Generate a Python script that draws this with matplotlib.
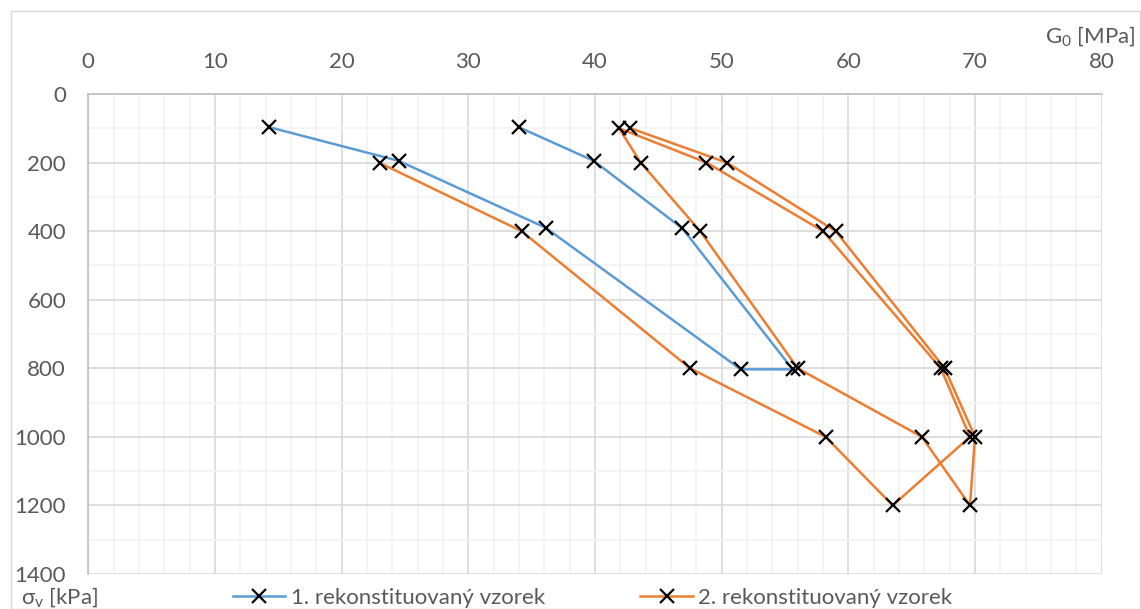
import matplotlib
matplotlib.use("Agg")
import matplotlib.pyplot as plt
from matplotlib.lines import Line2D
from matplotlib.patches import Rectangle
from matplotlib.ticker import MultipleLocator

plt.rcParams['font.family'] = ['Lato', 'DejaVu Sans']
plt.rcParams['mathtext.fontset'] = 'custom'
plt.rcParams['mathtext.rm'] = 'Lato'
plt.rcParams['mathtext.it'] = 'Lato:italic'

# Data: G0 [MPa] vs sigma_v [kPa]
blue_label = "1. rekonstituovaný vzorek"
blue_g0 = [14.3, 24.5, 36.1, 51.5, 55.6, 46.9, 39.9, 34.0]
blue_sv = [97, 195, 390, 803, 803, 392, 195, 97]

orange_label = "2. rekonstituovaný vzorek"
orange_g0 = [23.0, 34.2, 47.5, 58.2, 63.5, 69.6, 67.3, 58.0, 48.8, 41.9,
             43.6, 48.3, 56.0, 65.8, 69.6, 70.0, 67.6, 59.0, 50.4, 42.8]
orange_sv = [201, 400, 800, 1000, 1200, 1000, 800, 400, 200, 100,
             200, 400, 800, 1000, 1200, 1000, 800, 400, 200, 100]

x_label = r"G$_\mathrm{0}$ [MPa]"
y_label = r"σ$_\mathrm{v}$ [kPa]"

BLUE = "#5B9BD5"
ORANGE = "#ED7D31"
TXT = "#595959"
FS = 16

W, H = 1141, 609
fig = plt.figure(figsize=(W / 100, H / 100), dpi=100)

# outer chart border
fig.patches.append(Rectangle((10.5 / W, 0), (W - 12) / W, 1 - 10.5 / H,
                             transform=fig.transFigure, fill=False,
                             edgecolor="#d9d9d9", linewidth=1))

left, right, top, bottom = 88.3, 1101.7, 94, 574
ax = fig.add_axes([left / W, 1 - bottom / H, (right - left) / W, (bottom - top) / H])

ax.set_xlim(0, 80)
ax.set_ylim(1400, 0)
ax.xaxis.set_major_locator(MultipleLocator(10))
ax.xaxis.set_minor_locator(MultipleLocator(2))
ax.yaxis.set_major_locator(MultipleLocator(200))
ax.yaxis.set_minor_locator(MultipleLocator(100))
ax.xaxis.tick_top()
ax.tick_params(which='both', length=0)
ax.tick_params(axis='x', which='major', pad=16, labelsize=FS, labelcolor=TXT)
ax.tick_params(axis='y', which='major', pad=16, labelsize=FS, labelcolor=TXT)

ax.grid(which='minor', color="#f2f2f2", linewidth=1.2, zorder=0)
ax.grid(which='major', color="#d9d9d9", linewidth=1.2, zorder=0)
ax.set_axisbelow(True)
for side in ['right', 'bottom']:
    ax.spines[side].set_visible(False)
for side in ['left', 'top']:
    ax.spines[side].set_color("#bfbfbf")
    ax.spines[side].set_linewidth(1.2)

mk = dict(marker='x', markersize=10, markeredgecolor='black',
          markeredgewidth=1.6, linewidth=1.8)
ax.plot(blue_g0, blue_sv, color=BLUE, label=blue_label, zorder=3, **mk)
ax.plot(orange_g0, orange_sv, color=ORANGE, label=orange_label, zorder=3, **mk)

fig.text(1135 / W, 1 - 36 / H, x_label, ha='right', va='center',
         fontsize=FS, color=TXT)
fig.text(21 / W, 1 - 597 / H, y_label, ha='left', va='center',
         fontsize=FS, color=TXT)

handles = [Line2D([], [], color=BLUE, **mk), Line2D([], [], color=ORANGE, **mk)]
leg = fig.legend(handles, [blue_label, orange_label], ncol=2, frameon=False,
                 loc='center left', bbox_to_anchor=(233 / W, 1 - 598 / H),
                 borderpad=0, borderaxespad=0, handlelength=2.35,
                 handletextpad=0.25, columnspacing=4.3, fontsize=FS)
for t in leg.get_texts():
    t.set_color(TXT)

fig.savefig("out.png", dpi=100)
